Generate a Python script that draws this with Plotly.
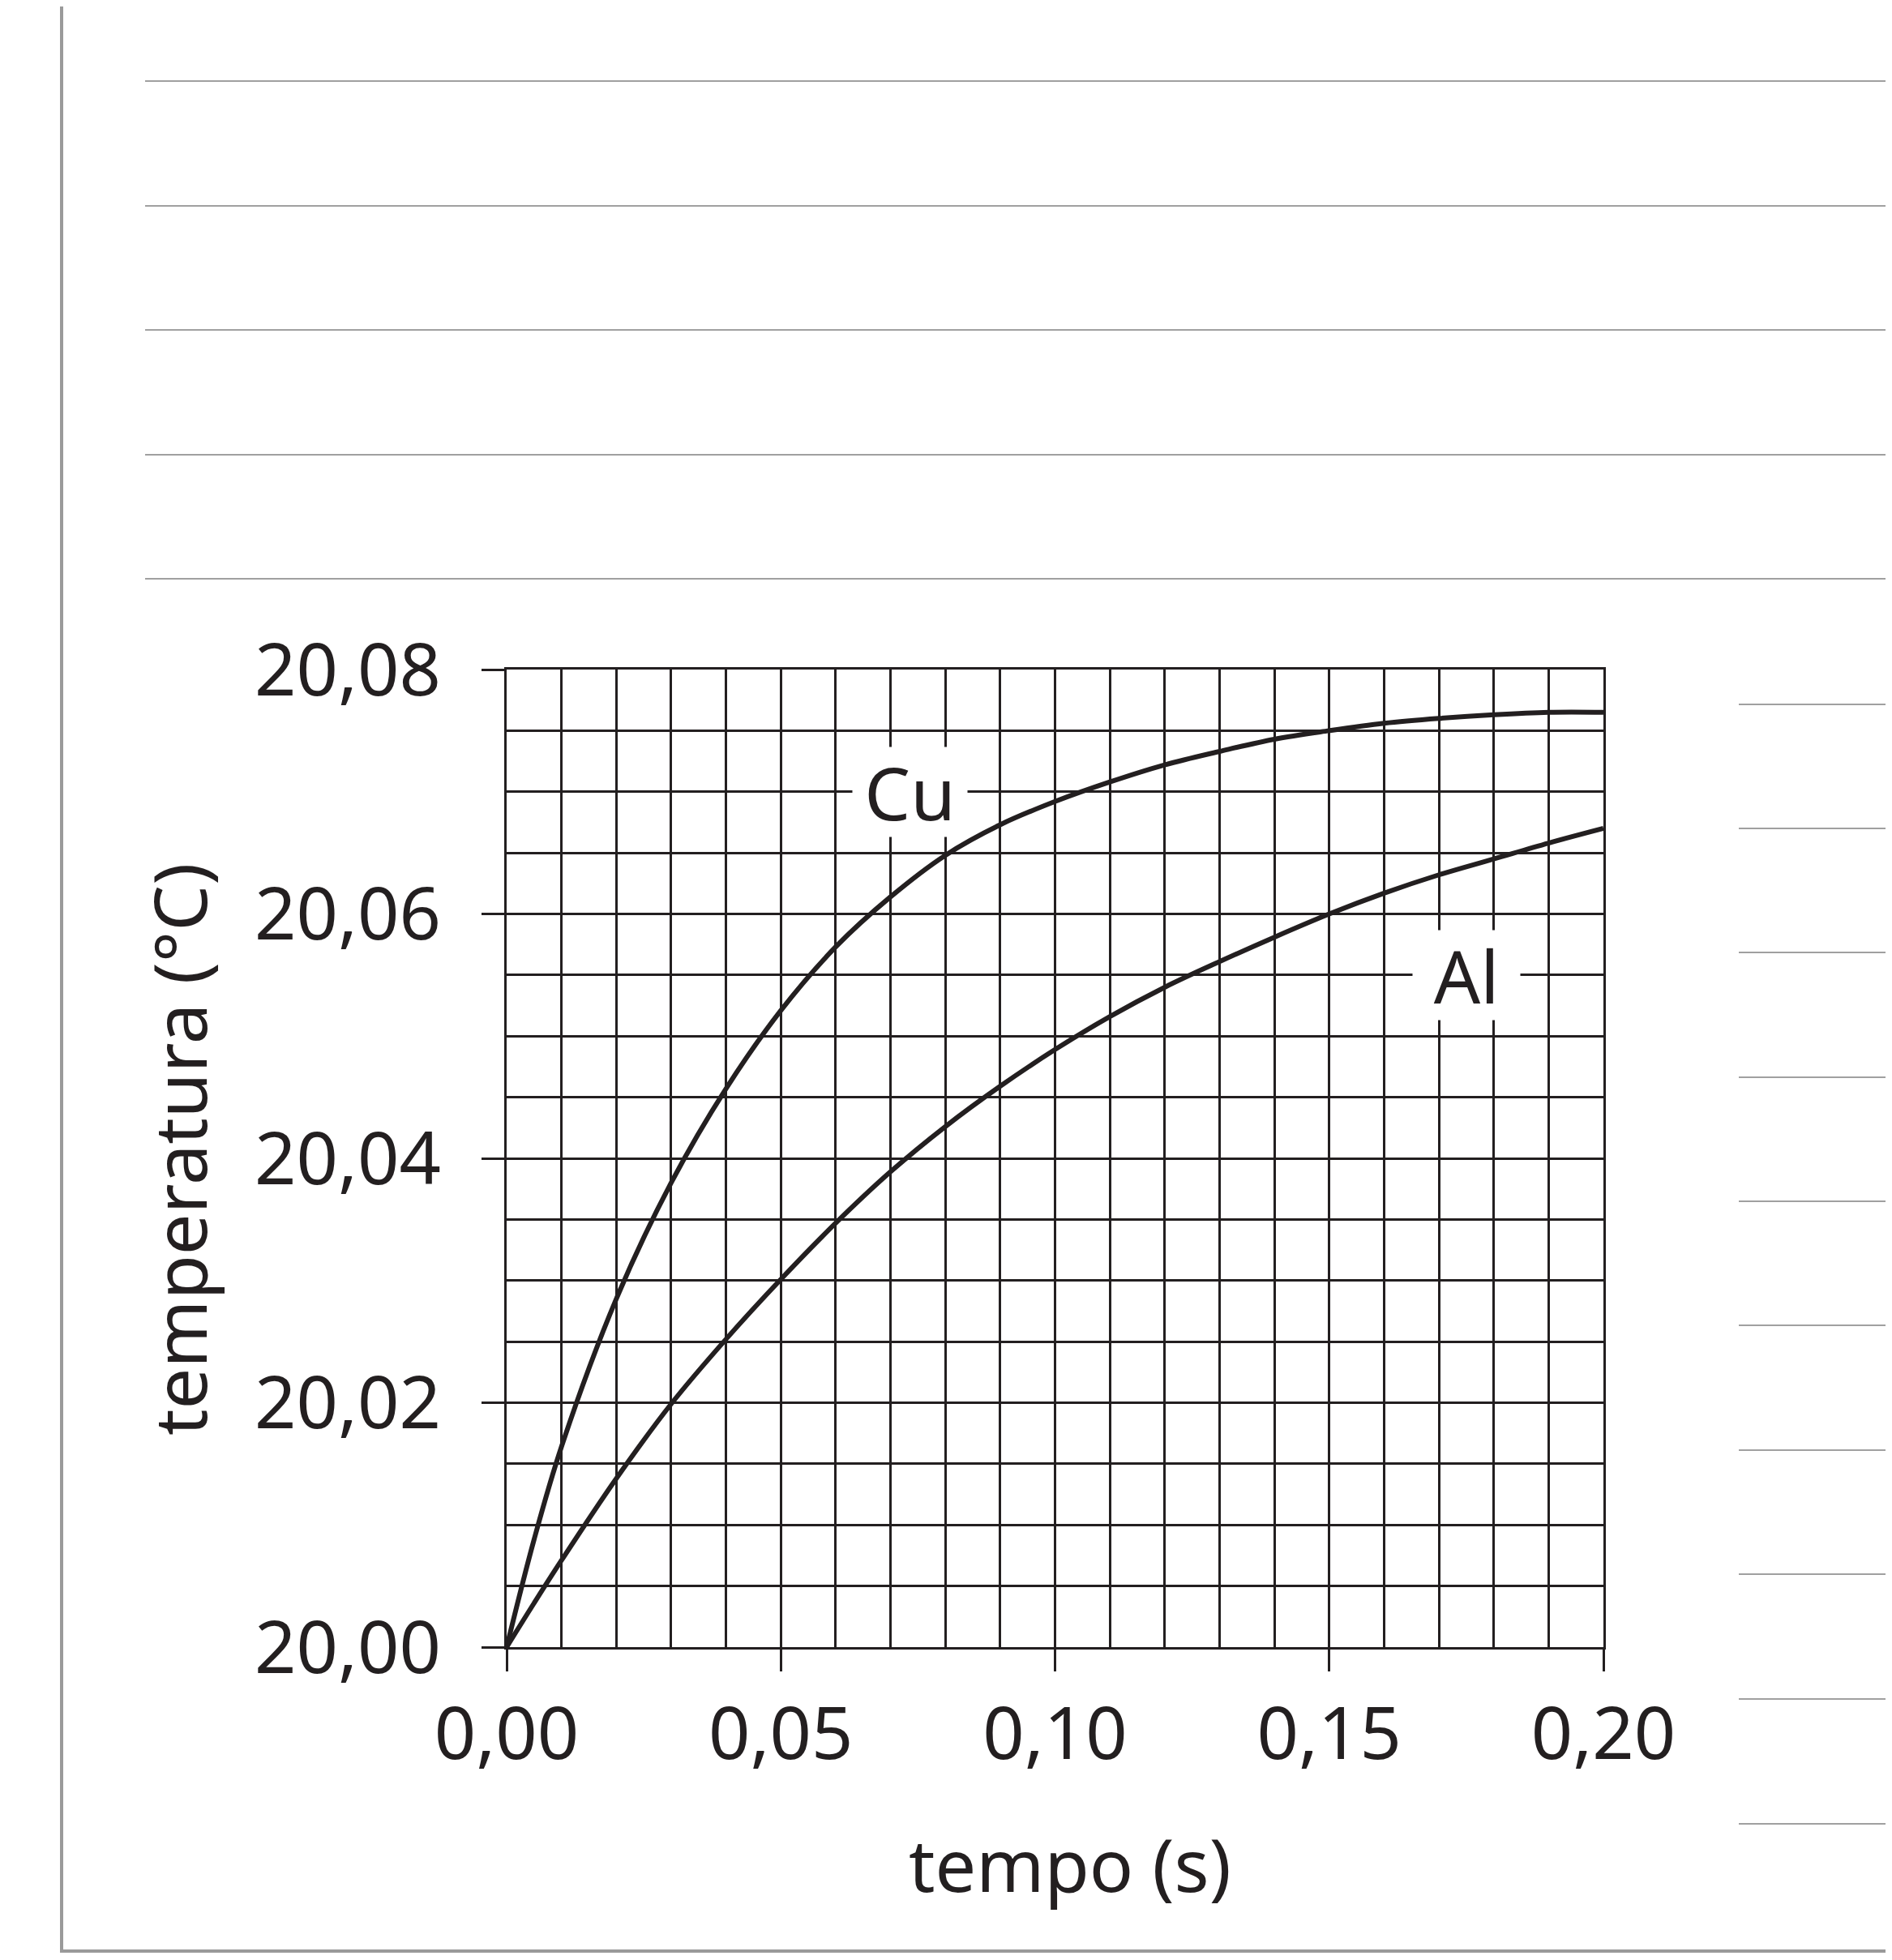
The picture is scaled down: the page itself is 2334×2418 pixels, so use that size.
"""
Curvas de aquecimento de Cu e Al (temperatura x tempo).
"""

import plotly.graph_objects as go

# dados
tempo = [0.000, 0.005, 0.01, 0.02, 0.03, 0.04, 0.05, 0.06, 0.07, 0.08, 0.09,
         0.10, 0.11, 0.12, 0.13, 0.14, 0.15, 0.16, 0.17, 0.18, 0.19, 0.20]
temp_cu = [20.0000, 20.0088, 20.0164, 20.0285, 20.0380, 20.0457, 20.0521,
           20.0573, 20.0614, 20.0648, 20.0673, 20.0692, 20.0708, 20.0722,
           20.0733, 20.0743, 20.0750, 20.0756, 20.0760, 20.0763, 20.0765,
           20.0765]
temp_al = [20.0000, 20.0036, 20.0071, 20.0138, 20.0199, 20.0252, 20.0301,
           20.0347, 20.0389, 20.0426, 20.0459, 20.0489, 20.0516, 20.0540,
           20.0561, 20.0581, 20.0600, 20.0617, 20.0632, 20.0645, 20.0658,
           20.0670]

# a pagina tem margem de 8px, entao a figura fica um pouco menor
OFF = 8
W, H = 2334 - OFF, 2418 - OFF
INK = "#231f20"
CINZA = "#a0a0a0"
FONTE = "Noto Sans"


def px_x(v):
    return (v - OFF) / W


def px_y(v):
    return 1 - (v - OFF) / H


fig = go.Figure()

for nome, valores in (("Cu", temp_cu), ("Al", temp_al)):
    fig.add_trace(go.Scatter(
        x=tempo, y=valores, mode="lines", name=nome,
        line=dict(color=INK, width=6, shape="spline", smoothing=1.0),
        showlegend=False,
    ))

# rotulos das curvas com fundo branco sobre a grade
fig.add_annotation(x=0.0735, y=20.070, text="Cu", showarrow=False,
                   bgcolor="white", width=139, height=108,
                   font=dict(family=FONTE, size=90, color=INK))
fig.add_annotation(x=0.175, y=20.055, text="Al", showarrow=False,
                   bgcolor="white", width=130, height=108,
                   font=dict(family=FONTE, size=90, color=INK))

# titulos dos eixos
fig.add_annotation(xref="paper", yref="paper", x=px_x(1320), y=px_y(2299),
                   xanchor="center", yanchor="middle",
                   text="tempo (s)", showarrow=False,
                   font=dict(family=FONTE, size=90, color=INK))
fig.add_annotation(xref="paper", yref="paper", x=px_x(220), y=px_y(1418),
                   xanchor="center", yanchor="middle",
                   text="temperatura (°C)", showarrow=False, textangle=-90,
                   font=dict(family=FONTE, size=90, color=INK))

# linhas de caderno (decoracao da pagina)
shapes = [
    dict(type="line", xref="paper", yref="paper", x0=px_x(76), x1=px_x(76),
         y0=1, y1=px_y(2407), line=dict(color="#9a9a9a", width=4)),
    dict(type="line", xref="paper", yref="paper", x0=px_x(74), x1=1,
         y0=px_y(2407), y1=px_y(2407), line=dict(color="#9a9a9a", width=4)),
]
for yy in (100, 254, 407, 561, 714):
    shapes.append(dict(type="line", xref="paper", yref="paper",
                       x0=px_x(179), x1=1, y0=px_y(yy), y1=px_y(yy),
                       line=dict(color=CINZA, width=2)))
for yy in (869, 1022, 1175, 1329, 1482, 1635, 1789, 1942, 2096, 2250):
    shapes.append(dict(type="line", xref="paper", yref="paper",
                       x0=px_x(2145), x1=1, y0=px_y(yy), y1=px_y(yy),
                       line=dict(color=CINZA, width=2)))

eixo = dict(
    showline=True, linecolor=INK, linewidth=3, mirror=True,
    showgrid=True, gridcolor=INK, gridwidth=3,
    ticks="outside", tickcolor=INK, tickwidth=3,
    tickformat=".2f", zeroline=False, automargin=False,
    tickfont=dict(family=FONTE, size=90, color=INK),
)

fig.update_layout(
    width=W, height=H,
    margin=dict(l=0, r=0, t=0, b=0),
    paper_bgcolor="white", plot_bgcolor="white",
    separators=",.",
    shapes=shapes,
    font=dict(family=FONTE, color=INK),
    xaxis=dict(
        eixo, range=[0, 0.2], dtick=0.05, ticklen=27,
        domain=[px_x(625), px_x(1978)],
        minor=dict(dtick=0.01, showgrid=True, gridcolor=INK, gridwidth=3,
                   ticks=""),
    ),
    yaxis=dict(
        eixo, range=[20.0, 20.08], dtick=0.02, ticklen=28,
        ticklabelstandoff=32,
        domain=[px_y(2032), px_y(826)],
        minor=dict(dtick=0.005, showgrid=True, gridcolor=INK, gridwidth=3,
                   ticks=""),
    ),
)

fig.write_html("out.html")
